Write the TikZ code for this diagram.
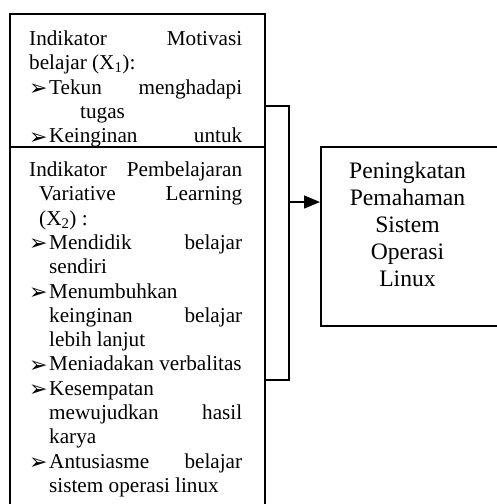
\documentclass[tikz,border=0pt]{standalone}
\usepackage{fontspec}
\setmainfont{Liberation Serif}
\newfontfamily\dejavu{DejaVu Sans}
\usetikzlibrary{arrows.meta}
\begin{document}
\begin{tikzpicture}[x=1pt,y=-1pt,
  boxed/.style={draw, line width=1.5pt, fill=white, inner sep=0pt, anchor=north west},
  txt/.style={inner sep=0pt, anchor=base west, font=\fontsize{21.2}{24}\selectfont},
  bul/.style={inner sep=0pt, anchor=base west, yshift=-1.5pt, font=\dejavu\fontsize{22}{24}\selectfont},
  bigtxt/.style={inner sep=0pt, anchor=base, font=\fontsize{23.6}{27}\selectfont},
  conn/.style={line width=1.5pt}]
\fill[white] (0,0) rectangle (496,504);
\useasboundingbox (0,0) rectangle (496,504);
% first box
\node[boxed, minimum width=255pt, minimum height=133pt] (box1) at (9,13) {};
\node[txt] (a1) at (29,45.5) {\hbox to 213pt{Indikator\hfill Motivasi}};
\node[txt] (a2) at (29,69.8) {belajar (X\textsubscript{1}):};
\node[bul] (ab1) at (29,94.1) {➢};
\node[txt] (a3) at (49,94.1) {\hbox to 193pt{Tekun\hfill menghadapi}};
\node[txt] (a4) at (80,118.4) {tugas};
\node[bul] (ab2) at (29,142.7) {➢};
\node[txt] (a5) at (49,142.7) {\hbox to 193pt{Keinginan\hfill untuk}};
% second box
\node[boxed, minimum width=255pt, minimum height=380pt] (box2) at (9,146) {};
\node[txt] (b0) at (29,176.5) {\hbox to 213pt{Indikator\hfill Pembelajaran}};
\node[txt] (b1) at (39,200.8) {\hbox to 203pt{Variative\hfill Learning}};
\node[txt] (b2) at (39,225.1) {(X\textsubscript{2}) :};
\node[bul] (bb3) at (29,249.4) {➢};
\node[txt] (b3) at (49,249.4) {\hbox to 193pt{Mendidik\hfill belajar}};
\node[txt] (b4) at (49,273.7) {sendiri};
\node[bul] (bb5) at (29,298) {➢};
\node[txt] (b5) at (49,298) {Menumbuhkan};
\node[txt] (b6) at (49,322.3) {\hbox to 193pt{keinginan\hfill belajar}};
\node[txt] (b7) at (49,346.6) {lebih lanjut};
\node[bul] (bb8) at (29,370.9) {➢};
\node[txt] (b8) at (49,370.9) {Meniadakan verbalitas};
\node[bul] (bb9) at (29,395.2) {➢};
\node[txt] (b9) at (49,395.2) {Kesempatan};
\node[txt] (b10) at (49,419.5) {\hbox to 193pt{mewujudkan\hfill hasil}};
\node[txt] (b11) at (49,443.8) {karya};
\node[bul] (bb12) at (29,468.1) {➢};
\node[txt] (b12) at (49,468.1) {\hbox to 193pt{Antusiasme\hfill belajar}};
\node[txt] (b13) at (49,492.4) {sistem operasi linux};
% result box
\node[boxed, minimum width=178pt, minimum height=179pt] (out) at (320,146) {};
\node[bigtxt] (c1) at (407.5,178.3) {Peningkatan};
\node[bigtxt] (c2) at (407.5,205.4) {Pemahaman};
\node[bigtxt] (c3) at (407.5,232.5) {Sistem};
\node[bigtxt] (c4) at (407.5,259.6) {Operasi};
\node[bigtxt] (c5) at (407.5,286.7) {Linux};
% connectors
\coordinate (j1) at (289,106);
\coordinate (j2) at (289,380);
\coordinate (ja) at (289,202);
\draw[conn, line join=miter] (box1.east |- j1) -- (j1) -- (j2) -- (box2.east |- j2);
\draw[conn, -{Triangle[length=16pt,width=13pt]}] (ja) -- (out.west |- ja);
\end{tikzpicture}
\end{document}
